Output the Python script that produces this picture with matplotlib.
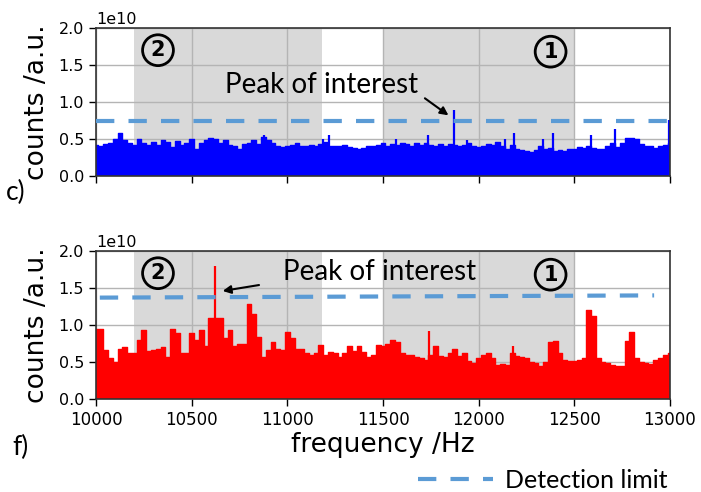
import numpy as np
import matplotlib.pyplot as plt
from matplotlib.lines import Line2D

# ---------------------------------------------------------------------------
# Data (counts in units of 1e10), envelope read every 25 Hz, 10000..13000 Hz
# ---------------------------------------------------------------------------
freq = np.arange(10000, 13001, 25)

counts_c = [
    0.42, 0.41, 0.43, 0.45, 0.50, 0.58, 0.48, 0.45, 0.42, 0.50,
    0.44, 0.42, 0.46, 0.42, 0.49, 0.46, 0.39, 0.47, 0.42, 0.45,
    0.50, 0.37, 0.45, 0.48, 0.52, 0.50, 0.45, 0.49, 0.42, 0.41,
    0.37, 0.43, 0.45, 0.49, 0.43, 0.53, 0.48, 0.44, 0.40, 0.39,
    0.41,
    0.42, 0.44, 0.40, 0.41, 0.42, 0.40, 0.43, 0.46, 0.41, 0.40,
    0.40, 0.42, 0.39, 0.38, 0.36, 0.38, 0.41, 0.40, 0.42, 0.44,
    0.41, 0.43, 0.42, 0.45, 0.43, 0.41, 0.44, 0.42, 0.44, 0.42,
    0.40, 0.43, 0.41, 0.43, 0.42, 0.40, 0.42, 0.44, 0.40, 0.39,
    0.41, 0.43, 0.42, 0.46, 0.40, 0.37, 0.42, 0.37, 0.35, 0.34,
    0.33, 0.35, 0.40, 0.36, 0.38, 0.34, 0.35, 0.34, 0.36, 0.37,
    0.39, 0.38, 0.40, 0.38, 0.37, 0.36, 0.40, 0.44, 0.39, 0.45,
    0.52, 0.51, 0.50, 0.43, 0.41, 0.40, 0.38, 0.40, 0.42, 0.44,
]

counts_f = [
    0.95, 0.95, 0.66, 0.55, 0.50, 0.68, 0.70, 0.62, 0.62, 0.80,
    0.93, 0.65, 0.66, 0.68, 0.70, 0.57, 0.95, 0.89, 0.62, 0.62,
    0.89, 0.80, 0.93, 0.71, 1.09, 1.09, 1.09, 0.82, 0.93, 0.71,
    0.75,
    0.75, 1.29, 1.15, 0.84, 0.57, 0.66, 0.77, 0.68, 0.66, 0.90,
    0.82, 0.68, 0.68, 0.62, 0.60, 0.62, 0.73, 0.60, 0.63, 0.62,
    0.57, 0.62, 0.71, 0.65, 0.71, 0.64, 0.57, 0.60, 0.73, 0.72,
    0.75, 0.80, 0.77, 0.62, 0.60, 0.60, 0.57, 0.56, 0.53, 0.60,
    0.72, 0.58, 0.57, 0.62, 0.68, 0.58, 0.62, 0.52, 0.48, 0.56,
    0.60, 0.62, 0.55, 0.46, 0.47, 0.46, 0.62, 0.58, 0.57, 0.55,
    0.50, 0.48, 0.45, 0.50, 0.77, 0.78, 0.62, 0.53, 0.52, 0.52,
    0.53, 0.55, 1.20, 1.12, 0.55, 0.50, 0.48, 0.46, 0.44, 0.45,
    0.78, 0.90, 0.55, 0.50, 0.48, 0.47, 0.53, 0.55, 0.60, 0.62,
]

# narrow single-bin spikes
spikes_c_freq = [10880, 11184, 11218, 11570, 11735, 11873, 11940,
                 12140, 12185, 12336, 12388, 12589, 12711, 12995]
spikes_c_val = [0.55, 0.50, 0.56, 0.50, 0.55, 0.89, 0.48,
                0.50, 0.58, 0.50, 0.58, 0.55, 0.64, 0.76]
spikes_f_freq = [10622, 11741, 12180]
spikes_f_val = [1.80, 0.92, 0.71]

# detection limits
limit_c_freq = [10000, 13000]
limit_c_val = [0.745, 0.745]
limit_f_freq = [10020, 12917]
limit_f_val = [1.37, 1.40]

# shaded regions and their circled labels
regions = [(10200, 11180), (11500, 12500)]
region_names = ["2", "1"]
region_label_freq = [10324, 12376]
region_label_val = [1.70, 1.68]

# peak-of-interest annotations: arrow head, arrow tail, text anchor
peak_c = dict(head=(11842, 0.82), tail=(11719, 1.05), text=(10674, 1.23))
peak_f = dict(head=(10662, 1.46), tail=(10852, 1.54), text=(10977, 1.72))

E10 = 1e10
LIMIT_COLOR = "#5b9bd5"
TXT_FONT = "Lato"

fig = plt.figure(figsize=(7.01, 4.92), dpi=100)
ax_c = fig.add_axes([96 / 701, 1 - 176 / 492, 574 / 701, 148 / 492])
ax_f = fig.add_axes([96 / 701, 1 - 399 / 492, 574 / 701, 148 / 492])


def draw_panel(ax, counts, sp_freq, sp_val, color, lim_f, lim_v, peak):
    vals = np.array(counts) * E10
    for (x0, x1) in regions:
        ax.axvspan(x0, x1, color="#d9d9d9", lw=0, zorder=0)
    ax.grid(True, color="#b4b4b4", lw=1.0, zorder=0.5)
    ax.set_axisbelow(True)
    ax.fill_between(freq, 0, vals, step="mid", color=color, lw=0, zorder=2)
    ax.plot(freq, vals, drawstyle="steps-mid", color=color, lw=1.0, zorder=2)
    ax.vlines(sp_freq, 0, np.array(sp_val) * E10, color=color, lw=1.6, zorder=2)
    ax.plot(lim_f, np.array(lim_v) * E10, color=LIMIT_COLOR, lw=3,
            dashes=(4.4, 3.4), zorder=3)
    for name, xf, yv in zip(region_names, region_label_freq, region_label_val):
        ax.text(xf, yv * E10, name, fontsize=15, fontweight="bold",
                ha="center", va="center", family="DejaVu Sans", zorder=4,
                bbox=dict(boxstyle="circle,pad=0.26", fc="none", ec="black", lw=2))
    ax.annotate("", xy=(peak["head"][0], peak["head"][1] * E10),
                xytext=(peak["tail"][0], peak["tail"][1] * E10),
                arrowprops=dict(arrowstyle="-|>", color="black", lw=1.5,
                                mutation_scale=12, shrinkA=0, shrinkB=0),
                zorder=4)
    ax.text(peak["text"][0], peak["text"][1] * E10, "Peak of interest",
            fontsize=20, family=TXT_FONT, ha="left", va="center", zorder=4)

    ax.set_xlim(10000, 13000)
    ax.set_ylim(0, 2.0e10)
    ax.set_xticks([10000, 10500, 11000, 11500, 12000, 12500, 13000])
    ax.set_yticks(np.arange(0, 2.01, 0.5) * E10)
    ax.tick_params(axis="y", labelsize=11.5, length=5, width=1)
    ax.tick_params(axis="x", labelsize=12, length=5, width=1)
    ax.yaxis.get_offset_text().set_fontsize(11.5)
    ax.set_ylabel("counts /a.u.", fontsize=19, labelpad=6)
    for s in ax.spines.values():
        s.set_linewidth(1.2)
        s.set_color("#333333")


draw_panel(ax_c, counts_c, spikes_c_freq, spikes_c_val, "#0000ff",
           limit_c_freq, limit_c_val, peak_c)
draw_panel(ax_f, counts_f, spikes_f_freq, spikes_f_val, "#ff0000",
           limit_f_freq, limit_f_val, peak_f)
ax_c.tick_params(axis="x", labelbottom=False)
ax_f.set_xlabel("frequency /Hz", fontsize=19, labelpad=2)

fig.text(6 / 701, 1 - 192 / 492, "c)", fontsize=19, family=TXT_FONT, va="center")
fig.text(12 / 701, 1 - 447 / 492, "f)", fontsize=19, family=TXT_FONT, va="center")

handle = Line2D([], [], color=LIMIT_COLOR, lw=3, dashes=(4.4, 3.4))
fig.legend([handle], ["Detection limit"], loc="center right",
           bbox_to_anchor=(690 / 701, 1 - 480 / 492), frameon=False,
           handlelength=3.0, handletextpad=0.5,
           prop=dict(family=TXT_FONT, size=18))

fig.savefig("out.png", dpi=100)
